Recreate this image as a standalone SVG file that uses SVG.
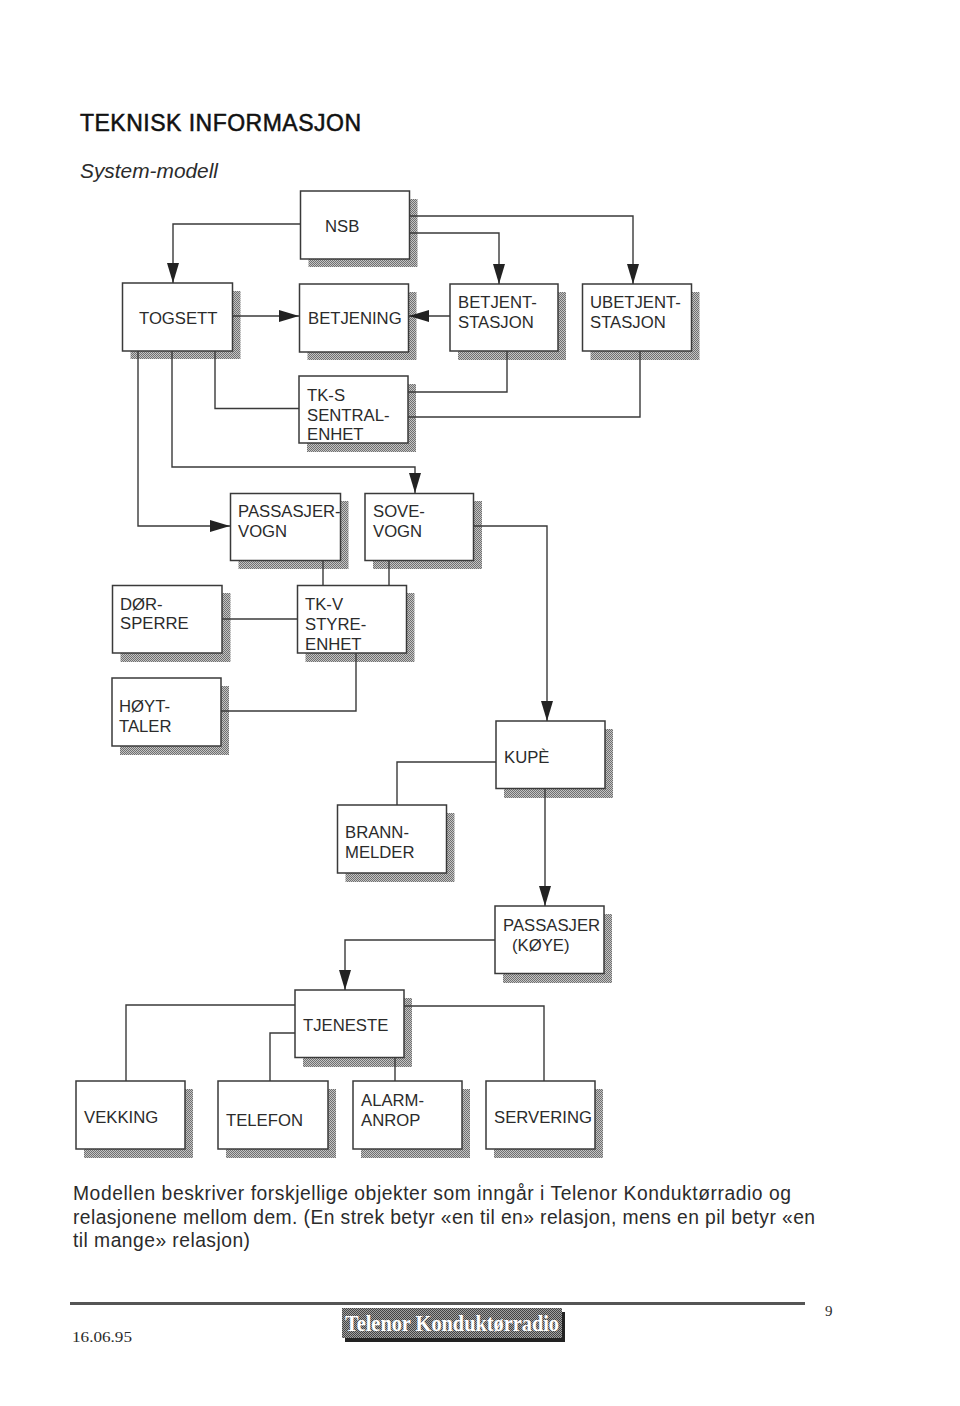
<svg xmlns="http://www.w3.org/2000/svg" width="960" height="1406" viewBox="0 0 960 1406">
<style>
text{font-family:"Liberation Sans",Arial,sans-serif;fill:#2b2b2b}
.l{font-size:16.700px}
.b{fill:#fff;stroke:#3a3a3a;stroke-width:1.5}
.s{fill:url(#dither);stroke:none}
.c{fill:none;stroke:#3a3a3a;stroke-width:1.4}
.a{marker-end:url(#arrow)}
.p{font-size:19.300px}
.f{font-family:"Liberation Serif",serif;font-size:15px}
</style>
<defs>
<pattern id="dither" width="2" height="2" patternUnits="userSpaceOnUse"><rect width="2" height="2" fill="#c4c4c4"/><rect width="1" height="1" fill="#707070"/><rect x="1" y="1" width="1" height="1" fill="#707070"/></pattern>
<pattern id="logo" width="2" height="2" patternUnits="userSpaceOnUse"><rect width="2" height="2" fill="#a0a0a0"/><rect width="1" height="1" fill="#444"/><rect x="1" y="1" width="1" height="1" fill="#444"/></pattern>
<marker id="arrow" markerUnits="userSpaceOnUse" markerWidth="20" markerHeight="12" refX="20" refY="6" orient="auto"><path d="M0,0 L20,6 L0,12 Z" fill="#222"/></marker>
</defs>
<rect width="960" height="1406" fill="#fff"/>
<text x="80" y="131" font-size="23" style="fill:#111;stroke:#111;stroke-width:.5" textLength="281">TEKNISK INFORMASJON</text>
<text x="80" y="178" font-size="19.500" font-style="italic" textLength="138" lengthAdjust="spacingAndGlyphs">System-modell</text>
<g id="nsb"><rect class="s" x="308.500" y="199" width="109" height="68"/><rect class="b" x="300.500" y="191" width="109" height="68"/><text class="l" x="325" y="232">NSB</text></g>
<g id="togsett"><rect class="s" x="130.500" y="291" width="110" height="68"/><rect class="b" x="122.500" y="283" width="110" height="68"/><text class="l" x="139" y="324">TOGSETT</text></g>
<g id="betjening"><rect class="s" x="307.500" y="292" width="109" height="68"/><rect class="b" x="299.500" y="284" width="109" height="68"/><text class="l" x="308" y="324">BETJENING</text></g>
<g id="betjent"><rect class="s" x="458" y="292" width="108" height="68"/><rect class="b" x="450" y="284" width="108" height="67"/><text class="l" x="458" y="308">BETJENT-</text><text class="l" x="458" y="328">STASJON</text></g>
<g id="ubetjent"><rect class="s" x="590.500" y="292" width="109" height="68"/><rect class="b" x="582.500" y="284" width="109" height="67"/><text class="l" x="590" y="308">UBETJENT-</text><text class="l" x="590" y="328">STASJON</text></g>
<g id="tks"><rect class="s" x="307" y="384" width="109" height="68"/><rect class="b" x="299" y="376" width="109" height="67"/><text class="l" x="307" y="401">TK-S</text><text class="l" x="307" y="421">SENTRAL-</text><text class="l" x="307" y="440">ENHET</text></g>
<g id="passasjervogn"><rect class="s" x="238.500" y="501" width="110" height="68"/><rect class="b" x="230.500" y="493.500" width="110" height="67"/><text class="l" x="238" y="517">PASSASJER-</text><text class="l" x="238" y="537">VOGN</text></g>
<g id="sovevogn"><rect class="s" x="373" y="501" width="109" height="68"/><rect class="b" x="365" y="493.500" width="108.500" height="67"/><text class="l" x="373" y="517">SOVE-</text><text class="l" x="373" y="537">VOGN</text></g>
<g id="dorsperre"><rect class="s" x="120.500" y="593" width="110" height="69"/><rect class="b" x="112.500" y="585.500" width="109.500" height="67.500"/><text class="l" x="120" y="610">DØR-</text><text class="l" x="120" y="629">SPERRE</text></g>
<g id="tkv"><rect class="s" x="305.500" y="593" width="109" height="69"/><rect class="b" x="297.500" y="585.500" width="109" height="67.500"/><text class="l" x="305" y="610">TK-V</text><text class="l" x="305" y="630">STYRE-</text><text class="l" x="305" y="650">ENHET</text></g>
<g id="hoyttaler"><rect class="s" x="120" y="686" width="109" height="69"/><rect class="b" x="112" y="678" width="109" height="68"/><text class="l" x="119" y="712">HØYT-</text><text class="l" x="119" y="732">TALER</text></g>
<g id="kupe"><rect class="s" x="504" y="729" width="109" height="69"/><rect class="b" x="496" y="721" width="109" height="67.500"/><text class="l" x="504" y="763">KUPÈ</text></g>
<g id="brannmelder"><rect class="s" x="345.500" y="813" width="109" height="69"/><rect class="b" x="337.500" y="805" width="109" height="68"/><text class="l" x="345" y="838">BRANN-</text><text class="l" x="345" y="858">MELDER</text></g>
<g id="passasjerkoye"><rect class="s" x="503" y="914" width="109" height="69"/><rect class="b" x="495" y="906" width="109" height="67.500"/><text class="l" x="503" y="931">PASSASJER</text><text class="l" x="512" y="951">(KØYE)</text></g>
<g id="tjeneste"><rect class="s" x="303" y="998" width="109" height="69"/><rect class="b" x="295" y="990" width="109" height="67.500"/><text class="l" x="303" y="1031">TJENESTE</text></g>
<g id="vekking"><rect class="s" x="84" y="1089" width="109" height="69"/><rect class="b" x="76" y="1081" width="109" height="68"/><text class="l" x="84" y="1123">VEKKING</text></g>
<g id="telefon"><rect class="s" x="226" y="1089" width="110" height="69"/><rect class="b" x="218" y="1081" width="110" height="68"/><text class="l" x="226" y="1126">TELEFON</text></g>
<g id="alarmanrop"><rect class="s" x="361" y="1089" width="109" height="69"/><rect class="b" x="353" y="1081" width="109" height="68"/><text class="l" x="361" y="1106">ALARM-</text><text class="l" x="361" y="1126">ANROP</text></g>
<g id="servering"><rect class="s" x="494" y="1089" width="109" height="69"/><rect class="b" x="486" y="1081" width="109" height="68"/><text class="l" x="494" y="1123">SERVERING</text></g>
<g id="connectors">
<path class="c a" d="M300,224H173V283"/>
<path class="c a" d="M409,233H499V284"/>
<path class="c a" d="M409,216H633V284"/>
<path class="c a" d="M232,316H299"/>
<path class="c a" d="M450,316H409"/>
<path class="c" d="M215,351V408.500H299"/>
<path class="c" d="M408,392H507V351"/>
<path class="c" d="M408,417H640V351"/>
<path class="c a" d="M172,351V467H415V493"/>
<path class="c a" d="M138,351V526H230"/>
<path class="c" d="M323,560V585"/>
<path class="c" d="M389,560V585"/>
<path class="c" d="M222,619H297"/>
<path class="c" d="M221,711H356V653"/>
<path class="c a" d="M473,526H547V721"/>
<path class="c" d="M496,762H397V805"/>
<path class="c a" d="M545,788V906"/>
<path class="c a" d="M495,940H345V990"/>
<path class="c" d="M295,1005H126V1081"/>
<path class="c" d="M295,1033H270V1081"/>
<path class="c" d="M395,1057V1081"/>
<path class="c" d="M404,1006H544V1081"/>
</g>
<text class="p" x="73" y="1200" textLength="718">Modellen beskriver forskjellige objekter som inngår  i Telenor Konduktørradio og</text>
<text class="p" x="73" y="1224" textLength="742">relasjonene mellom dem. (En strek betyr «en til en» relasjon, mens en pil betyr «en</text>
<text class="p" x="73" y="1247" textLength="177">til mange» relasjon)</text>
<rect x="70" y="1302" width="735" height="3" fill="#555"/>
<rect x="345" y="1312" width="220" height="30" fill="#222"/>
<rect x="342" y="1308" width="220" height="30" fill="url(#logo)"/>
<text x="345" y="1331" font-size="23" textLength="214" lengthAdjust="spacingAndGlyphs" style="font-family:'Liberation Serif',serif;font-weight:bold;fill:#fff">Telenor Konduktørradio</text>
<text class="f" x="72" y="1342" textLength="60" lengthAdjust="spacingAndGlyphs">16.06.95</text>
<text class="f" x="825" y="1316">9</text>
</svg>
